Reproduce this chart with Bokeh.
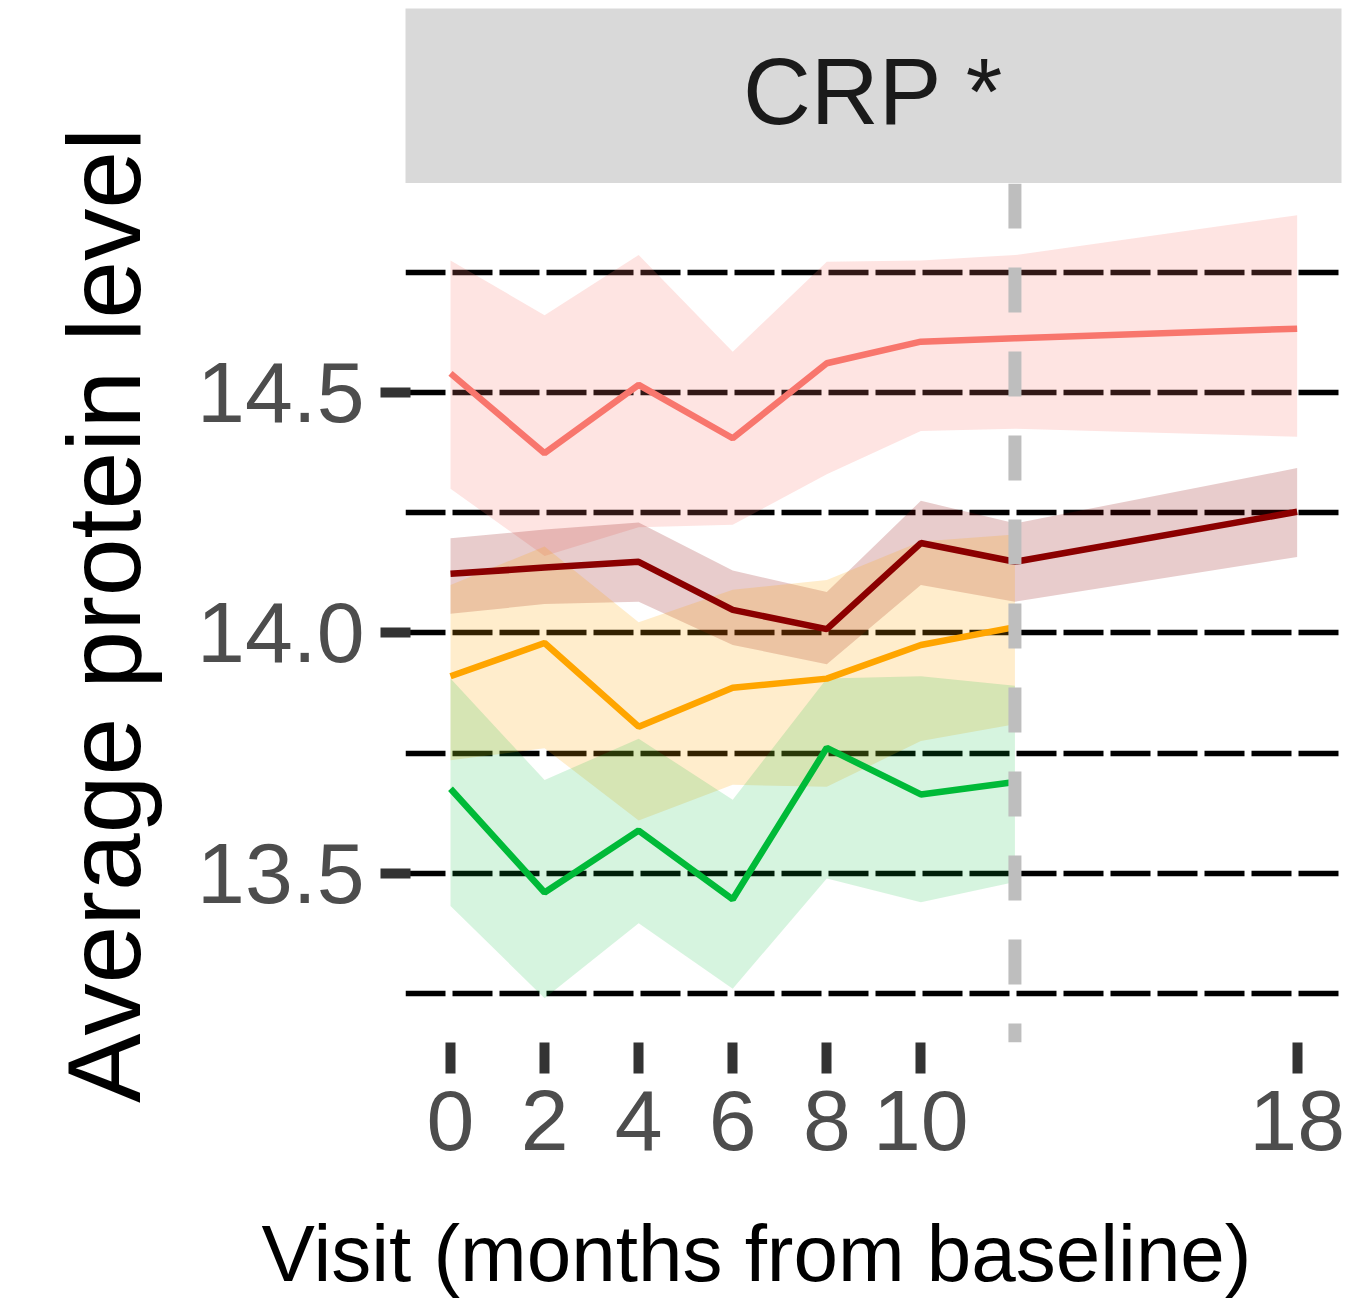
import math
from bokeh.plotting import figure
from bokeh.layouts import column, row
from bokeh.models import ColumnDataSource, FixedTicker, Span, Range1d, NumeralTickFormatter
from bokeh.embed import file_html
from bokeh.resources import INLINE
from bokeh.core.properties import value

# ---------------- data ----------------
visits_long = [0, 2, 4, 6, 8, 10, 12, 18]
visits_short = [0, 2, 4, 6, 8, 10, 12]

red_mean = [14.54, 14.374, 14.516, 14.405, 14.561, 14.606, 14.613, 14.633]
red_upper = [14.775, 14.661, 14.786, 14.585, 14.772, 14.775, 14.786, 14.869]
red_lower = [14.30, 14.16, 14.22, 14.225, 14.33, 14.42, 14.425, 14.408]

darkred_mean = [14.123, 14.136, 14.148, 14.048, 14.008, 14.187, 14.148, 14.252]
darkred_upper = [14.197, 14.215, 14.23, 14.13, 14.085, 14.275, 14.228, 14.343]
darkred_lower = [14.04, 14.06, 14.065, 13.975, 13.935, 14.10, 14.065, 14.158]

orange_mean = [13.91, 13.979, 13.805, 13.886, 13.905, 13.975, 14.012]
orange_upper = [14.10, 14.18, 14.022, 14.09, 14.11, 14.19, 14.205]
orange_lower = [13.735, 13.76, 13.61, 13.684, 13.68, 13.775, 13.81]

green_mean = [13.676, 13.46, 13.589, 13.446, 13.761, 13.664, 13.69]
green_upper = [13.905, 13.694, 13.78, 13.653, 13.905, 13.91, 13.89]
green_lower = [13.432, 13.24, 13.396, 13.26, 13.489, 13.44, 13.482]

x_ticks = [0, 2, 4, 6, 8, 10, 18]
y_ticks = [13.5, 14.0, 14.5]
y_minor = [13.25, 13.75, 14.25, 14.75]
switch_visit = 12
strip_label = "CRP *"
x_title = "Visit (months from baseline)"
y_title = "Average protein level"

series = [
    (visits_long, red_mean, red_lower, red_upper, "#F8766D", 0.2),
    (visits_long, darkred_mean, darkred_lower, darkred_upper, "#8B0000", 0.2),
    (visits_short, orange_mean, orange_lower, orange_upper, "#FFA500", 0.2),
    (visits_short, green_mean, green_lower, green_upper, "#00BA38", 0.16),
]

FONT = "Liberation Sans"
YT_W = 180          # width of the y-title strip
LEFT = 225          # main figure left border (tick labels)
FW = 936            # panel width
FH = 859            # panel height
RIGHT = 15
STRIP_H = 175
TOP = 8
BOTTOM = 155
TOTAL_W = YT_W + LEFT + FW + RIGHT
ROW_H = TOP + STRIP_H + FH + BOTTOM
XT_H = 1301 - ROW_H


def blank(w, h):
    f = figure(frame_width=w, frame_height=h, x_range=Range1d(0, w), y_range=Range1d(0, h),
               output_backend="svg", toolbar_location=None,
               x_axis_location=None, y_axis_location=None,
               min_border_left=0, min_border_right=0, min_border_top=0, min_border_bottom=0)
    f.grid.visible = False
    f.outline_line_color = None
    f.background_fill_color = "white"
    f.border_fill_color = "white"
    return f


# ---------------- y title ----------------
yt = blank(YT_W, ROW_H)
yt.text(x=[103], y=[ROW_H - 615], text=[y_title], angle=math.pi / 2,
        text_align="center", text_baseline="middle",
        text_font=value(FONT), text_font_size="104px", text_color="black")

# ---------------- strip ----------------
s = figure(frame_width=FW, frame_height=STRIP_H, x_range=Range1d(0, FW), y_range=Range1d(0, STRIP_H),
           output_backend="svg", toolbar_location=None,
           x_axis_location=None, y_axis_location=None,
           min_border_left=LEFT, min_border_right=RIGHT, min_border_top=TOP, min_border_bottom=0)
s.grid.visible = False
s.background_fill_color = "#D9D9D9"
s.border_fill_color = "white"
s.outline_line_color = None
s.text(x=[FW / 2], y=[STRIP_H + TOP - 90.5], text=[strip_label], text_align="center",
       text_baseline="middle", text_font=value(FONT), text_font_size="94px", text_color="#1A1A1A")

# ---------------- main panel ----------------
p = figure(frame_width=FW, frame_height=FH,
           x_range=Range1d(-0.957, 18.943), y_range=Range1d(13.148, 14.935),
           output_backend="svg", toolbar_location=None,
           min_border_left=LEFT, min_border_right=RIGHT, min_border_top=0, min_border_bottom=BOTTOM)
p.background_fill_color = "white"
p.border_fill_color = "white"
p.outline_line_color = None

p.xgrid.visible = False
p.ygrid.ticker = FixedTicker(ticks=y_ticks, minor_ticks=y_minor)
p.ygrid.grid_line_color = "black"
p.ygrid.grid_line_width = 5.5
p.ygrid.grid_line_dash = "40 7"
p.ygrid.minor_grid_line_color = "black"
p.ygrid.minor_grid_line_width = 5.5
p.ygrid.minor_grid_line_dash = "40 7"

for xs, m, lo, hi, col, a in series:
    src = ColumnDataSource(dict(x=xs, lo=lo, hi=hi))
    p.varea(x="x", y1="lo", y2="hi", source=src, fill_color=col, fill_alpha=a)
for xs, m, lo, hi, col, a in series:
    src = ColumnDataSource(dict(x=xs, m=m))
    p.line(x="x", y="m", source=src, line_color=col, line_width=6.5)

p.add_layout(Span(location=switch_visit, dimension="height", line_color="#BEBEBE",
                  line_width=13, line_dash="45 39"))

# axes
p.xaxis.ticker = FixedTicker(ticks=x_ticks)
p.yaxis.ticker = FixedTicker(ticks=y_ticks)
p.yaxis.formatter = NumeralTickFormatter(format="0.0")
for ax in (p.xaxis[0], p.yaxis[0]):
    ax.axis_line_color = None
    ax.major_tick_line_color = "#333333"
    ax.major_tick_line_width = 10
    ax.minor_tick_line_color = None
    ax.major_tick_in = 0
    ax.major_label_text_font = FONT
    ax.major_label_text_font_size = "86px"
    ax.major_label_text_color = "#4D4D4D"

p.xaxis.major_tick_out = 31
p.xaxis.major_label_standoff = 17

p.yaxis.major_tick_out = 25
p.yaxis.major_tick_in = 5
p.yaxis.major_label_standoff = 16

# ---------------- x title ----------------
xt = blank(TOTAL_W, XT_H)
xt.text(x=[756], y=[1301 - 1253], text=[x_title], text_align="center", text_baseline="middle",
        text_font=value(FONT), text_font_size="80px", text_color="black")

layout = column(row(yt, column(s, p, spacing=0), spacing=0), xt, spacing=0)
open("out.html", "w").write(file_html(layout, INLINE))
